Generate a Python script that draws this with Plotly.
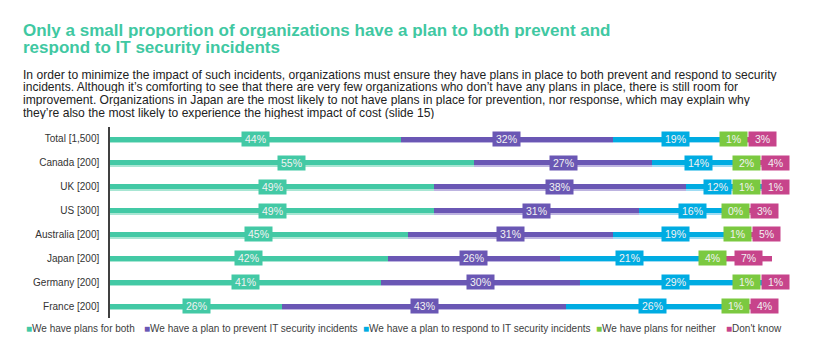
import plotly.graph_objects as go

categories = ["Total [1,500]", "Canada [200]", "UK [200]", "US [300]",
              "Australia [200]", "Japan [200]", "Germany [200]", "France [200]"]
series_names = ["We have plans for both",
                "We have a plan to prevent IT security incidents",
                "We have a plan to respond to IT security incidents",
                "We have plans for neither",
                "Don't know"]
both = [44, 55, 49, 49, 45, 42, 41, 26]
prevent = [32, 27, 38, 31, 31, 26, 30, 43]
respond = [19, 14, 12, 16, 19, 21, 29, 26]
neither = [1, 2, 1, 0, 1, 4, 1, 1]
dont_know = [3, 4, 1, 3, 5, 7, 1, 4]

series_values = [both, prevent, respond, neither, dont_know]
colors = ["#43C9A5", "#6A57B4", "#00ACE2", "#7BC940", "#C7448B"]
light_colors = ["#A8E6D3", "#BDB3E0", "#9FDCF3", "#C2E6A3", "#E6AFCB"]

title_lines = ["Only a small proportion of organizations have a plan to both prevent and",
               "respond to IT security incidents"]
subtitle_lines = [
    "In order to minimize the impact of such incidents, organizations must ensure they have plans in place to both prevent and respond to security",
    "incidents. Although it\u2019s comforting to see that there are very few organizations who don\u2019t have any plans in place, there is still room for",
    "improvement. Organizations in Japan are the most likely to not have plans in place for prevention, nor response, which may explain why",
    "they\u2019re also the most likely to experience the highest impact of cost (slide 15)",
]

W, H = 814, 351
ML, MR, MT, MB = 110, 16, 127, 33
XMAX = 104
PX_PER_UNIT = (W - ML - MR) / XMAX

fig = go.Figure()

# bars
for s, (name, vals) in enumerate(zip(series_names, series_values)):
    bases = [sum(series_values[k][i] for k in range(s)) for i in range(len(categories))]
    fig.add_trace(go.Bar(
        y=categories, x=vals, base=bases, orientation="h",
        marker=dict(color=light_colors[s], line=dict(width=0)),
        width=0.27, offset=-0.10, showlegend=False, hoverinfo="skip"))
    fig.add_trace(go.Bar(
        y=categories, x=vals, base=bases, orientation="h", name=name,
        marker=dict(color=colors[s], line=dict(width=0)),
        width=0.21, offset=-0.10, showlegend=False))

# value labels (boxes), centred on segments with simple collision avoidance
min_gap = 29 / PX_PER_UNIT
max_center = (775 - ML) / PX_PER_UNIT
for i, cat in enumerate(categories):
    centers = []
    acc = 0
    for s in range(len(series_values)):
        v = series_values[s][i]
        centers.append(acc + v / 2)
        acc += v
    for _ in range(200):
        centers[-1] = min(centers[-1], max_center)
        for k in range(len(centers) - 1):
            d = centers[k + 1] - centers[k]
            if d < min_gap:
                push = (min_gap - d) / 2
                centers[k] -= push
                centers[k + 1] += push
    centers[-1] = min(centers[-1], max_center)
    for s in range(len(series_values)):
        fig.add_annotation(
            x=centers[s], y=cat, xref="x", yref="y",
            text=f"{series_values[s][i]}%", showarrow=False,
            font=dict(family="Liberation Sans, Arial", size=10.5, color="#F2F2F2"),
            bgcolor=colors[s], borderpad=2, width=23, height=10)

def px2paper_x(px):
    return (px - ML) / (W - ML - MR)

def px2paper_y(py):
    return 1 - (py - MT) / (H - MT - MB)

# title
for k, line in enumerate(title_lines):
    fig.add_annotation(
        x=px2paper_x(21), y=px2paper_y(29.5 + k * 17.5), xref="paper", yref="paper",
        xanchor="left", yanchor="middle", showarrow=False, text=f"<b>{line}</b>",
        font=dict(family="Liberation Sans, Arial", size=17, color="#40C8A2"),
        height=16)

# subtitle
for k, line in enumerate(subtitle_lines):
    fig.add_annotation(
        x=px2paper_x(21), y=px2paper_y(74.5 + k * 12.7), xref="paper", yref="paper",
        xanchor="left", yanchor="middle", showarrow=False, text=line,
        font=dict(family="Liberation Sans, Arial", size=12.1, color="#222222"),
        height=12)

# legend (manual)
legend_x = [24, 142, 361, 594, 724]
for s, name in enumerate(series_names):
    fig.add_annotation(
        x=px2paper_x(legend_x[s]), y=px2paper_y(328), xref="paper", yref="paper",
        xanchor="left", yanchor="middle", showarrow=False,
        text=f"<span style='color:{colors[s]}'>\u25A0</span>{name}",
        font=dict(family="Liberation Sans, Arial", size=10, color="#404040"))

fig.update_layout(
    width=W, height=H, margin=dict(l=ML, r=MR, t=MT, b=MB),
    barmode="overlay", plot_bgcolor="white", paper_bgcolor="white",
    bargap=0,
    xaxis=dict(range=[0, XMAX], visible=False, fixedrange=True),
    yaxis=dict(autorange="reversed", showline=True, linecolor="#404040", linewidth=1.5,
               ticks="outside", ticklen=7, tickcolor="rgba(0,0,0,0)",
               showgrid=False, zeroline=False,
               tickfont=dict(family="Liberation Sans, Arial", size=10, color="#333333")),
)

fig.write_html("out.html")
